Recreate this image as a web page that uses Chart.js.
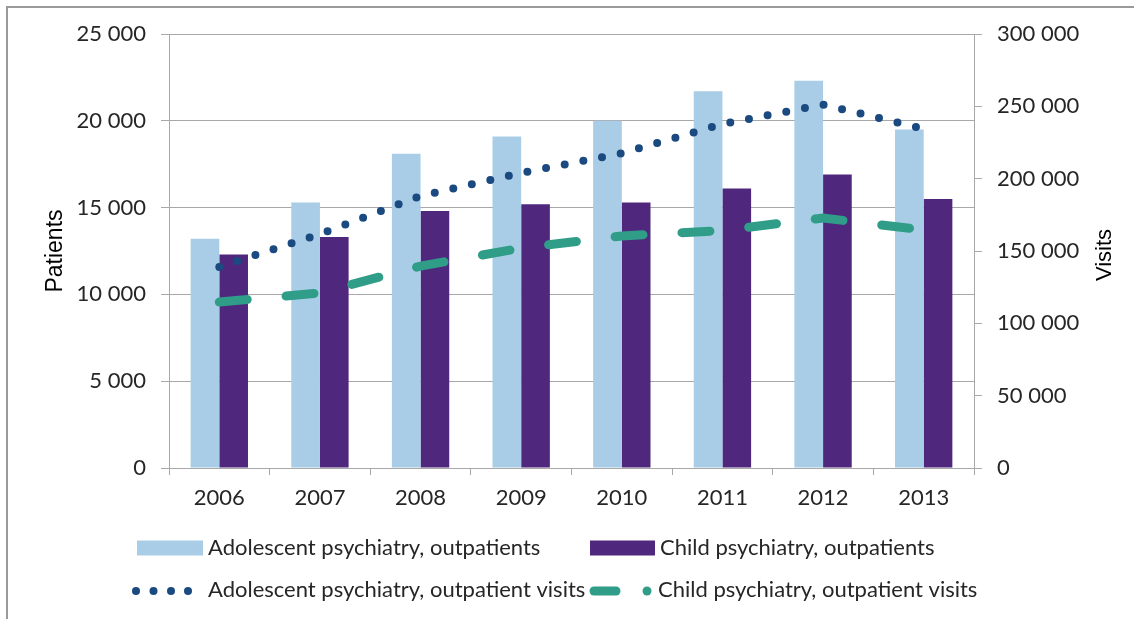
<!DOCTYPE html>
<html>
<head>
<meta charset="utf-8">
<script src="https://cdn.jsdelivr.net/npm/chart.js@4"></script>
<style>
  html, body { margin: 0; padding: 0; background: #ffffff; }
  #wrap { width: 1141px; height: 619px; }
</style>
</head>
<body>
<div id="wrap"><canvas id="c" width="1141" height="619"></canvas></div>
<script>
const years = ['2006', '2007', '2008', '2009', '2010', '2011', '2012', '2013'];
const adolescentPatients = [13200, 15300, 18100, 19100, 20000, 21700, 22300, 19500];
const childPatients = [12300, 13300, 14800, 15200, 15300, 16100, 16900, 15500];
const adolescentVisits = [139000, 161700, 188000, 204000, 217500, 237800, 251200, 234500];
const childVisits = [114700, 121000, 139600, 152000, 160400, 164200, 172800, 164500];
const seriesNames = [
  'Adolescent psychiatry, outpatients',
  'Child psychiatry, outpatients',
  'Adolescent psychiatry, outpatient visits',
  'Child psychiatry, outpatient visits'
];
const leftTitle = 'Patients';
const rightTitle = 'Visits';

const C_LIGHT = '#a9cde6';
const C_PURPLE = '#4f287d';
const C_DOTS = '#1b4a80';
const C_TEAL = '#2f9d88';
const GRID = '#a8a8a8';
const TXT = '#262626';
const FONT = 'Lato, "Open Sans", sans-serif';

function fmt(v) {
  return String(v).replace(/\B(?=(\d{3})+(?!\d))/g, ' ');
}

const extras = {
  id: 'extras',
  beforeDraw(chart) {
    const ctx = chart.ctx;
    ctx.save();
    ctx.strokeStyle = '#9a9a9a';
    ctx.lineWidth = 2;
    ctx.beginPath();
    ctx.moveTo(6, 7); ctx.lineTo(1134, 7);
    ctx.moveTo(7, 6); ctx.lineTo(7, 619);
    ctx.stroke();
    ctx.restore();
  },
  afterDraw(chart) {
    const ctx = chart.ctx;
    ctx.save();
    // right axis title, reading bottom to top
    ctx.fillStyle = '#000';
    ctx.font = '22px "Liberation Sans", Arial, sans-serif';
    ctx.textAlign = 'center';
    ctx.textBaseline = 'middle';
    ctx.translate(1105, 255);
    ctx.rotate(-Math.PI / 2);
    ctx.fillText(rightTitle, 0, 0);
    ctx.restore();

    // legend
    ctx.save();
    ctx.font = '22px ' + FONT;
    ctx.textAlign = 'left';
    ctx.textBaseline = 'middle';
    const r1 = 548, r2 = 590;
    ctx.fillStyle = C_LIGHT;
    ctx.fillRect(137, r1 - 7.5, 66, 15);
    ctx.fillStyle = C_PURPLE;
    ctx.fillRect(590, r1 - 7.5, 65, 15);
    ctx.fillStyle = TXT;
    ctx.fillText(seriesNames[0], 208, r1);
    ctx.fillText(seriesNames[1], 660, r1);
    ctx.fillText(seriesNames[2], 208, r2);
    ctx.fillText(seriesNames[3], 658, r2);
    // dotted sample
    ctx.fillStyle = C_DOTS;
    [136, 153.5, 171, 188].forEach(x => {
      ctx.beginPath(); ctx.arc(x, r2 + 1, 4, 0, Math.PI * 2); ctx.fill();
    });
    // dashed sample
    ctx.strokeStyle = C_TEAL;
    ctx.lineCap = 'round';
    ctx.lineWidth = 9;
    ctx.beginPath(); ctx.moveTo(594, r2 + 1); ctx.lineTo(616, r2 + 1); ctx.stroke();
    ctx.fillStyle = C_TEAL;
    ctx.beginPath(); ctx.arc(647, r2 + 1, 4.5, 0, Math.PI * 2); ctx.fill();
    ctx.restore();
  }
};

new Chart(document.getElementById('c'), {
  data: {
    labels: years,
    datasets: [
      { type: 'bar', label: seriesNames[0], data: adolescentPatients, backgroundColor: C_LIGHT,
        yAxisID: 'y', order: 2, categoryPercentage: 0.57, barPercentage: 1.0 },
      { type: 'bar', label: seriesNames[1], data: childPatients, backgroundColor: C_PURPLE,
        yAxisID: 'y', order: 2, categoryPercentage: 0.57, barPercentage: 1.0 },
      { type: 'line', label: seriesNames[2], data: adolescentVisits, borderColor: C_DOTS,
        borderWidth: 8, borderDash: [0, 19], borderCapStyle: 'round', pointRadius: 0,
        tension: 0, fill: false, yAxisID: 'y1', order: 1 },
      { type: 'line', label: seriesNames[3], data: childVisits, borderColor: C_TEAL,
        borderWidth: 9, borderDash: [28, 39], borderCapStyle: 'round', pointRadius: 0,
        tension: 0, fill: false, yAxisID: 'y1', order: 1 }
    ]
  },
  options: {
    responsive: false,
    devicePixelRatio: 1,
    animation: false,
    layout: { padding: { top: 34, left: 0, right: 0, bottom: 0 } },
    plugins: { legend: { display: false }, tooltip: { enabled: false } },
    scales: {
      x: {
        offset: true,
        grid: { offset: true, drawOnChartArea: false, drawTicks: true, tickLength: 7, color: GRID },
        border: { color: GRID, width: 1 },
        ticks: { color: TXT, font: { family: FONT, size: 22 }, padding: 10, maxRotation: 0 },
        afterFit(s) { s.height = 151; }
      },
      y: {
        position: 'left',
        min: 0, max: 25000,
        ticks: { stepSize: 5000, color: TXT, font: { family: FONT, size: 22 }, padding: 15,
                 callback: v => fmt(v) },
        grid: { color: GRID, tickLength: 8 },
        border: { color: GRID, width: 1 },
        title: { display: true, text: leftTitle, color: '#000',
                 font: { family: '"Liberation Sans", Arial, sans-serif', size: 23 },
                 padding: { top: 42, bottom: 0 } },
        afterFit(s) { s.width = 169; }
      },
      y1: {
        position: 'right',
        min: 0, max: 300000,
        ticks: { stepSize: 50000, color: TXT, font: { family: FONT, size: 22 }, padding: 15,
                 callback: v => fmt(v) },
        grid: { drawOnChartArea: false, color: GRID, tickLength: 8 },
        border: { color: GRID, width: 1 },
        afterFit(s) { s.width = 167; }
      }
    }
  },
  plugins: [extras]
});
</script>
</body>
</html>
